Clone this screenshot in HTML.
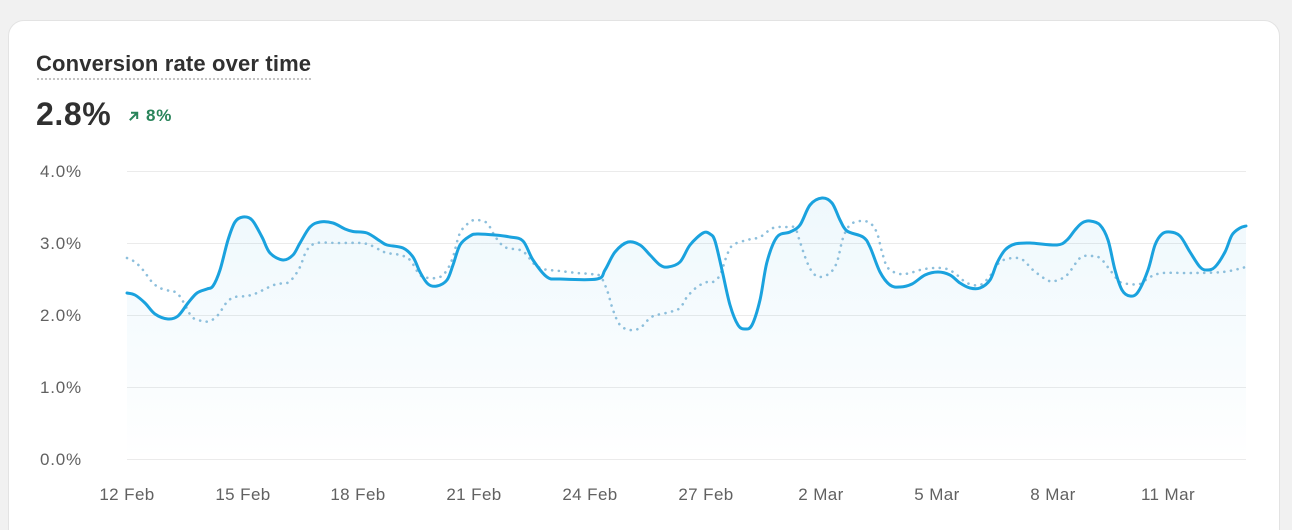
<!DOCTYPE html>
<html>
<head>
<meta charset="utf-8">
<style>
  html{margin:0;padding:0;width:1292px;height:530px;overflow:hidden;}
  body{margin:0;padding:0;width:1292px;height:530px;background:#f1f1f1;position:relative;overflow:hidden;font-family:"Liberation Sans",sans-serif;}
  .card{position:absolute;left:8px;top:20px;width:1272px;height:530px;background:#fff;border:1px solid #e3e3e3;border-radius:16px;box-sizing:border-box;}
  .title{position:absolute;left:36px;top:51px;font-size:22px;font-weight:700;color:#303030;letter-spacing:0.15px;white-space:nowrap;}
  .uline{position:absolute;left:36px;top:78px;width:276px;height:2px;background-image:radial-gradient(circle,#b5b5b5 0.9px,transparent 1.1px);background-size:4px 2px;}
  .big{position:absolute;left:36px;top:96px;font-size:32px;font-weight:700;color:#303030;letter-spacing:0.6px;white-space:nowrap;}
  .delta{position:absolute;left:129px;top:106px;font-size:17px;font-weight:700;color:#29845a;letter-spacing:0.8px;white-space:nowrap;}
  svg{position:absolute;left:0;top:0;}
  .yl{font-size:17px;fill:#616161;letter-spacing:0.8px;}
  .xl{font-size:17px;fill:#616161;letter-spacing:0.4px;}
</style>
</head>
<body>
<div class="card"></div>
<div class="title">Conversion rate over time</div>
<div class="uline"></div>
<div class="big">2.8%</div>
<div class="delta"><svg width="10" height="10" viewBox="0 0 10 10" style="position:relative;left:0;top:0;display:inline-block;vertical-align:0px;margin-right:7px"><path d="M1.5 8.5 L8 2 M3 1.8 H8.2 V7" stroke="#29845a" stroke-width="2" fill="none" stroke-linecap="square"/></svg>8%</div>

<svg width="1292" height="530" viewBox="0 0 1292 530" xmlns="http://www.w3.org/2000/svg">
  <defs>
    <linearGradient id="fillg" x1="0" y1="0" x2="0" y2="1" gradientUnits="objectBoundingBox">
      <stop offset="0" stop-color="#1a9fdc" stop-opacity="0.07"/>
      <stop offset="0.7" stop-color="#1a9fdc" stop-opacity="0.025"/>
      <stop offset="1" stop-color="#1a9fdc" stop-opacity="0"/>
    </linearGradient>
  </defs>
  <g stroke="#ebebeb" stroke-width="1">
    <line x1="127" y1="171.5" x2="1246" y2="171.5"/>
    <line x1="127" y1="243.5" x2="1246" y2="243.5"/>
    <line x1="127" y1="315.5" x2="1246" y2="315.5"/>
    <line x1="127" y1="387.5" x2="1246" y2="387.5"/>
    <line x1="127" y1="459.5" x2="1246" y2="459.5"/>
  </g>
  <g class="yl">
    <text x="40" y="177">4.0%</text>
    <text x="40" y="249">3.0%</text>
    <text x="40" y="321">2.0%</text>
    <text x="40" y="393">1.0%</text>
    <text x="40" y="465">0.0%</text>
  </g>
  <g class="xl" text-anchor="middle">
    <text x="127" y="500">12 Feb</text>
    <text x="243" y="500">15 Feb</text>
    <text x="358" y="500">18 Feb</text>
    <text x="474" y="500">21 Feb</text>
    <text x="590" y="500">24 Feb</text>
    <text x="706" y="500">27 Feb</text>
    <text x="821" y="500">2 Mar</text>
    <text x="937" y="500">5 Mar</text>
    <text x="1053" y="500">8 Mar</text>
    <text x="1168" y="500">11 Mar</text>
  </g>
  <path id="area" fill="url(#fillg)" stroke="none" d=""/>
  <path id="dot" fill="none" stroke="#8dbfdc" stroke-width="2.6" stroke-linecap="round" stroke-dasharray="0.1 6.6" d=""/>
  <path id="solid" fill="none" stroke="#1aa2de" stroke-width="3" stroke-linejoin="round" stroke-linecap="round" d=""/>
</svg>

<script>
var solid=[[127,293],[135,295],[145,303],[155,314],[168,319],[178,316],[188,303],[197,293],[207,289],[213,286],[220,270],[228,240],[235,222],[243,217],[252,220],[262,237],[270,253],[283,260],[293,255],[300,243],[310,227],[320,222],[333,223],[345,229],[353,231.5],[367,233],[380,241],[387,245],[403,248],[413,257],[420,272],[428,284],[437,286],[447,280],[453,265],[460,245],[470,236],[477,234],[495,235],[510,237],[523,241],[533,260],[547,277],[560,279],[597,279],[605,270],[615,252],[628,242],[640,245],[650,255],[660,265],[668,267],[680,262],[690,245],[703,233],[710,234],[715,241],[722,270],[730,305],[738,325],[745,329],[752,325],[760,300],[767,262],[777,237],[790,232],[800,225],[810,205],[822,198],[832,203],[840,220],[847,231],[863,237],[870,247],[880,272],[890,285],[900,287],[912,284],[925,275],[938,272],[950,275],[960,283],[970,288],[980,288],[990,280],[997,263],[1005,250],[1015,244],[1030,243],[1057,245],[1067,240],[1075,230],[1082,223],[1090,221],[1100,225],[1108,240],[1115,270],[1122,290],[1130,296],[1138,292],[1148,270],[1155,245],[1162,234],[1170,232],[1180,236],[1190,252],[1200,267],[1207,270],[1215,267],[1225,252],[1232,235],[1240,228],[1246,226]];
var dot=[[127,258],[135,262],[143,270],[152,282],[160,288],[170,291],[177,293],[184,303],[192,317],[202,321],[210,321],[218,315],[227,302],[235,297],[247,296],[257,293],[267,288],[277,284],[287,283],[293,278],[300,267],[307,250],[317,243],[337,243],[360,243],[370,245],[380,250],[387,253],[400,255],[410,260],[420,275],[430,278],[440,277],[447,270],[453,257],[460,233],[470,222],[477,220],[487,223],[493,233],[500,243],[507,248],[520,250],[527,255],[533,263],[543,269],[560,271],[577,273],[590,274],[600,276],[607,290],[613,310],[620,325],[630,330],[640,328],[650,318],[657,315],[670,312],[680,308],[687,297],[697,287],[707,282],[713,282],[720,275],[727,255],[733,245],[747,240],[760,237],[773,228],[787,227],[795,228],[800,242],[807,262],[813,273],[820,277],[830,273],[837,262],[843,238],[850,225],[860,221],[870,223],[877,233],[882,252],[888,268],[900,274],[910,273],[920,270],[933,268],[947,269],[957,275],[967,283],[980,285],[990,276],[1000,262],[1013,258],[1023,260],[1033,270],[1047,280],[1055,281],[1067,275],[1080,258],[1090,256],[1100,258],[1110,270],[1120,282],[1130,284],[1140,284],[1150,277],[1163,273],[1190,273],[1223,272],[1246,267]];
function cr(p){
  var d="M"+p[0][0]+","+p[0][1];
  for(var i=0;i<p.length-1;i++){
    var p0=p[i-1]||p[i],p1=p[i],p2=p[i+1],p3=p[i+2]||p2;
    var t=1/6;
    var c1x=p1[0]+(p2[0]-p0[0])*t,c1y=p1[1]+(p2[1]-p0[1])*t;
    var c2x=p2[0]-(p3[0]-p1[0])*t,c2y=p2[1]-(p3[1]-p1[1])*t;
    d+=" C"+c1x.toFixed(2)+","+c1y.toFixed(2)+" "+c2x.toFixed(2)+","+c2y.toFixed(2)+" "+p2[0]+","+p2[1];
  }
  return d;
}
var sd=cr(solid);
document.getElementById("solid").setAttribute("d",sd);
document.getElementById("dot").setAttribute("d",cr(dot));
document.getElementById("area").setAttribute("d",sd+" L1246,459 L127,459 Z");
</script>
</body>
</html>
